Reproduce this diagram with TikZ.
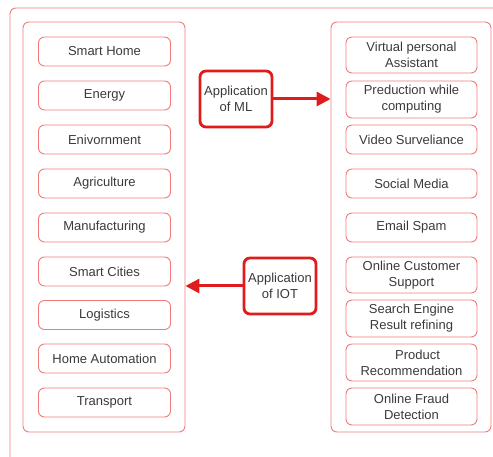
\documentclass[tikz,border=0pt]{standalone}
\usepackage{fontspec}
\setmainfont{Liberation Sans}
\usetikzlibrary{arrows.meta}
\definecolor{lightred}{HTML}{F07A7A}
\definecolor{strongred}{HTML}{E01B1B}
\definecolor{txt}{HTML}{3A3A3A}
\begin{document}
\begin{tikzpicture}[x=1pt,y=-1pt,
  item/.style={draw=lightred, line width=0.9pt, rounded corners=6pt, minimum width=132pt, text=txt, align=center, font=\fontsize{13}{16}\selectfont, inner sep=0pt},
  itemw/.style={item, minimum width=131pt},
  cont/.style={draw=lightred, line width=0.9pt, rounded corners=6pt},
  app/.style={draw=strongred, line width=2.8pt, rounded corners=6pt, text=txt, align=center, font=\fontsize{13}{16}\selectfont, minimum width=72pt, minimum height=56pt, inner sep=0pt},
  conn/.style={draw=strongred, line width=3pt, -{Triangle[length=14pt,width=14pt]}}]
\useasboundingbox (0,0) rectangle (493,457);
\clip (0,0) rectangle (493,457);
\draw[cont] (10,8) rectangle (520,490);
% containers
\node[cont, minimum width=162pt, minimum height=410pt, inner sep=0pt] (L) at (104,227) {};
\node[cont, minimum width=160pt, minimum height=410pt, inner sep=0pt] (R) at (411,227) {};
% left items
\node[item, minimum height=29pt] (l1) at (104.5,51.5) {Smart Home};
\node[item, minimum height=29pt] (l2) at (104.5,95.5) {Energy};
\node[item, minimum height=29pt] (l3) at (104.5,139.5) {Enivornment};
\node[item, minimum height=29pt] (l4) at (104.5,183.5) {Agriculture};
\node[item, minimum height=29pt] (l5) at (104.5,227.5) {Manufacturing};
\node[item, minimum height=29pt] (l6) at (104.5,271.5) {Smart Cities};
\node[item, minimum height=29pt] (l7) at (104.5,315) {Logistics};
\node[item, minimum height=29pt] (l8) at (104.5,358.5) {Home Automation};
\node[item, minimum height=29pt] (l9) at (104.5,402.5) {Transport};
% right items
\node[itemw, minimum height=36pt] (r1) at (411.5,55) {Virtual personal\\Assistant};
\node[itemw, minimum height=37pt] (r2) at (411.5,99.5) {Preduction while\\computing};
\node[itemw, minimum height=29pt] (r3) at (411.5,139.5) {Video Surveliance};
\node[itemw, minimum height=29pt] (r4) at (411.5,183.5) {Social Media};
\node[itemw, minimum height=29pt] (r5) at (411.5,227.5) {Email Spam};
\node[itemw, minimum height=36pt] (r6) at (411.5,275) {Online Customer\\Support};
\node[itemw, minimum height=37pt] (r7) at (411.5,318.5) {Search Engine\\Result refining};
\node[itemw, minimum height=37pt] (r8) at (411.5,362.5) {\hspace*{12pt}Product\\Recommendation};
\node[itemw, minimum height=37pt] (r9) at (411.5,406.5) {Online Fraud\\Detection};
% application boxes
\node[app] (ml) at (236,99) {Application\\of ML};
\node[app] (iot) at (280,286) {Application\\of IOT};
\draw[conn] (ml.east) -- (ml.east -| R.west);
\draw[conn] (iot.west) -- (iot.west -| L.east);
\end{tikzpicture}
\end{document}
